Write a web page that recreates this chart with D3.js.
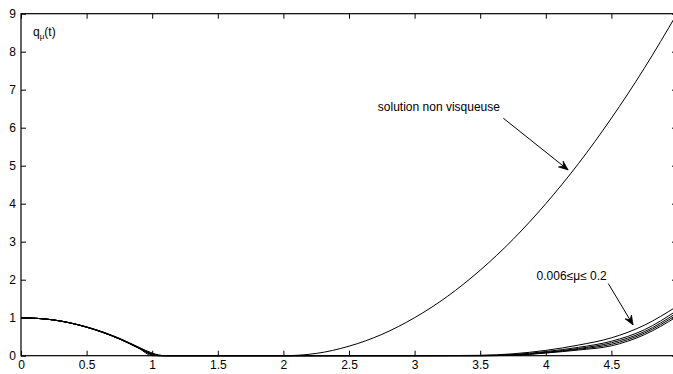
<!DOCTYPE html>
<html>
<head>
<meta charset="utf-8">
<script src="https://cdn.jsdelivr.net/npm/d3@7"></script>
<style>
  html, body { margin: 0; padding: 0; background: #fff; }
  svg { display: block; }
  text { font-family: "Liberation Sans", Arial, Helvetica, sans-serif; fill: #000; }
</style>
</head>
<body>
<svg id="chart" width="673" height="374"></svg>
<script>
// ---- data ----
const xTicks = [0, 0.5, 1, 1.5, 2, 2.5, 3, 3.5, 4, 4.5];
const xTickLabels = ["0", "0.5", "1", "1.5", "2", "2.5", "3", "3.5", "4", "4.5"];
const yTicks = [0, 1, 2, 3, 4, 5, 6, 7, 8, 9];
const yTickLabels = ["0", "1", "2", "3", "4", "5", "6", "7", "8", "9"];

// non viscous solution
const tNonVisc = [0, 0.25, 0.5, 0.75, 0.9, 1.0, 1.5, 2.0, 2.25, 2.5, 2.75, 3.0, 3.25, 3.5, 3.75, 4.0, 4.25, 4.5, 4.75, 5.0];
const qNonVisc = [1, 0.94, 0.75, 0.44, 0.19, 0, 0, 0, 0.06, 0.25, 0.56, 1.0, 1.56, 2.25, 3.06, 4.0, 5.06, 6.25, 7.56, 9.0];

// viscous solutions, 0.006 <= mu <= 0.2
const tVisc = [0, 0.25, 0.5, 0.75, 0.9, 1.0, 1.05, 1.1, 2.0, 3.0, 3.5, 3.75, 4.0, 4.25, 4.5, 4.75, 5.0];
const qVisc1 = [1, 0.94, 0.76, 0.46, 0.22, 0.07, 0.02, 0, 0, 0, 0.01, 0.05, 0.14, 0.28, 0.47, 0.80, 1.30];
const qVisc2 = [1, 0.94, 0.755, 0.45, 0.21, 0.05, 0.01, 0, 0, 0, 0.005, 0.03, 0.11, 0.22, 0.38, 0.68, 1.19];
const qVisc3 = [1, 0.94, 0.752, 0.445, 0.205, 0.04, 0.005, 0, 0, 0, 0, 0.02, 0.09, 0.19, 0.34, 0.63, 1.13];
const qVisc4 = [1, 0.94, 0.75, 0.443, 0.2, 0.03, 0, 0, 0, 0, 0, 0.015, 0.08, 0.17, 0.30, 0.59, 1.08];
const qVisc5 = [1, 0.94, 0.75, 0.44, 0.195, 0.02, 0, 0, 0, 0, 0, 0.01, 0.07, 0.15, 0.26, 0.55, 1.03];
const viscSeries = [qVisc1, qVisc2, qVisc3, qVisc4, qVisc5];

// ---- drawing ----
const svg = d3.select("#chart");
const L = 21, R = 677, T = 13.7, B = 355.7;
const x = d3.scaleLinear().domain([0, 5]).range([L, R]);
const y = d3.scaleLinear().domain([0, 9]).range([B, T]);

const line = d3.line()
  .x(d => x(d[0])).y(d => y(d[1]))
  .curve(d3.curveMonotoneX);

const plot = svg.append("g");

// curves
viscSeries.forEach(q => {
  plot.append("path")
    .datum(tVisc.map((t, i) => [t, q[i]]))
    .attr("d", line)
    .attr("fill", "none").attr("stroke", "#000").attr("stroke-width", 1);
});
plot.append("path")
  .datum(tNonVisc.map((t, i) => [t, qNonVisc[i]]))
  .attr("d", line)
  .attr("fill", "none").attr("stroke", "#000").attr("stroke-width", 1);

// frame
svg.append("rect")
  .attr("x", L).attr("y", T).attr("width", R - L).attr("height", B - T)
  .attr("fill", "none").attr("stroke", "#000").attr("stroke-width", 1.2);

// axes with inward ticks
const fs = "12px";
const xAxis = d3.axisBottom(x).tickValues(xTicks).tickSizeInner(-5).tickSizeOuter(0)
  .tickFormat((d, i) => xTickLabels[i]).tickPadding(5);
const gx = svg.append("g").attr("transform", `translate(0,${B})`).call(xAxis);
const xTop = d3.axisTop(x).tickValues(xTicks).tickSizeInner(-5).tickSizeOuter(0).tickFormat("");
const gxt = svg.append("g").attr("transform", `translate(0,${T})`).call(xTop);
const yAxis = d3.axisLeft(y).tickValues(yTicks).tickSizeInner(-5).tickSizeOuter(0)
  .tickFormat((d, i) => yTickLabels[i]).tickPadding(5);
const gy = svg.append("g").attr("transform", `translate(${L},0)`).call(yAxis);
const yRight = d3.axisRight(y).tickValues(yTicks).tickSizeInner(-5).tickSizeOuter(0).tickFormat("");
const gyr = svg.append("g").attr("transform", `translate(${R},0)`).call(yRight);
[gx, gxt, gy, gyr].forEach(g => {
  g.select(".domain").remove();
  g.selectAll(".tick line").attr("stroke", "#000").attr("stroke-width", 1);
  g.selectAll("text").attr("font-family", "Liberation Sans, Arial, sans-serif")
    .attr("font-size", fs).attr("fill", "#000");
});

// y label q_mu(t)
const yl = svg.append("text").attr("x", 33).attr("y", 35.5).attr("font-size", "12px");
yl.append("tspan").text("q");
yl.append("tspan").attr("dy", 3).attr("font-size", "8px").text("μ");
yl.append("tspan").attr("dy", -3).text("(t)");

// annotations
function arrow(x1, y1, x2, y2) {
  svg.append("line").attr("x1", x1).attr("y1", y1).attr("x2", x2).attr("y2", y2)
    .attr("stroke", "#000").attr("stroke-width", 1);
  const ang = Math.atan2(y2 - y1, x2 - x1);
  const len = 10, spread = 0.38;
  const p = [
    [x2 - len * Math.cos(ang - spread), y2 - len * Math.sin(ang - spread)],
    [x2, y2],
    [x2 - len * Math.cos(ang + spread), y2 - len * Math.sin(ang + spread)],
    [x2 - 0.6 * len * Math.cos(ang), y2 - 0.6 * len * Math.sin(ang)]
  ];
  svg.append("path").attr("d", `M${p[0]}L${p[1]}L${p[2]}L${p[3]}Z`)
    .attr("fill", "#000").attr("stroke", "#000").attr("stroke-width", 0.8);
}

svg.append("text").attr("x", x(2.72)).attr("y", y(6.45)).attr("font-size", "12px")
  .text("solution non visqueuse");
arrow(x(3.676), y(6.25), x(4.17), y(4.89));

svg.append("text").attr("x", x(3.93)).attr("y", y(1.98)).attr("font-size", "12px")
  .text("0.006≤μ≤ 0.2");
arrow(x(4.476), y(1.9), x(4.665), y(0.81));
</script>
</body>
</html>
